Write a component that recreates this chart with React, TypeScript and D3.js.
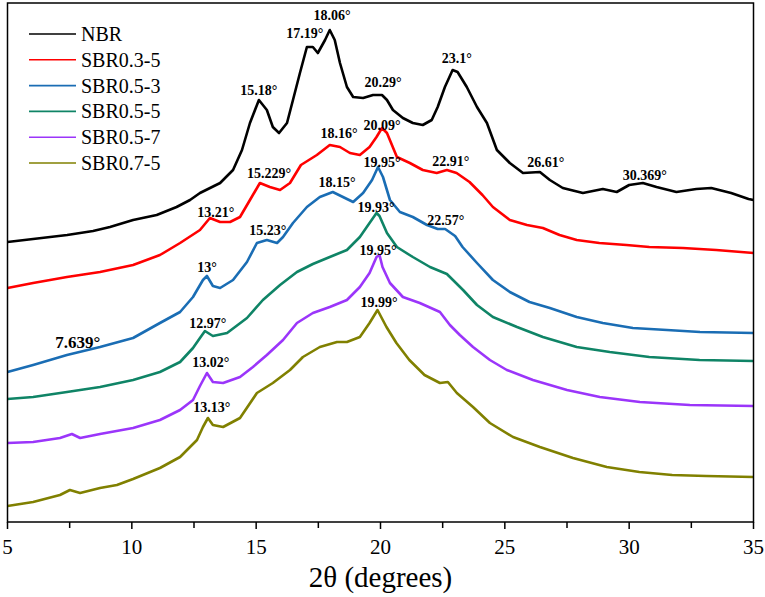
import React from "react";
import * as d3 from "d3";

// ---- Data (2θ in degrees, intensity in arbitrary units) ----
const seriesNames = ["NBR", "SBR0.3-5", "SBR0.5-3", "SBR0.5-5", "SBR0.5-7", "SBR0.7-5"];
const seriesColors = ["#000000", "#ff0000", "#1a6db4", "#0f8466", "#9b35fa", "#808000"];

const nbr: [number, number][] = [
  [5.0, 280], [6.03, 283], [7.4, 287], [8.44, 291], [9.12, 295], [10.05, 302], [11.0, 307], [11.8, 315],
  [12.34, 322], [12.74, 329], [13.55, 339], [14.07, 352], [14.43, 372], [14.75, 399], [15.11, 422],
  [15.43, 412], [15.67, 395], [15.92, 389], [16.24, 399], [16.48, 422], [16.76, 449], [17.04, 475],
  [17.28, 475], [17.48, 469], [17.77, 482], [17.96, 492], [18.16, 482], [18.37, 459], [18.65, 435],
  [18.9, 425], [19.3, 424], [19.7, 427], [20.06, 427], [20.26, 422], [20.5, 412], [20.9, 404],
  [21.3, 399], [21.7, 397], [22.06, 402], [22.3, 415], [22.59, 435], [22.9, 452], [23.1, 450],
  [23.47, 435], [23.88, 415], [24.28, 399], [24.68, 372], [25.2, 359], [25.73, 349], [26.41, 350],
  [26.81, 342], [27.33, 334], [28.14, 329], [28.94, 333], [29.5, 330], [30.0, 337], [30.55, 339],
  [31.1, 335], [31.9, 330], [32.7, 333], [33.3, 334], [34.1, 329], [34.8, 323], [35.0, 322],
];

const sbr03_5: [number, number][] = [
  [5.0, 234], [6.03, 239], [7.39, 245], [8.72, 250], [10.05, 257], [11.13, 267], [11.94, 279],
  [12.74, 292], [13.14, 304], [13.55, 300], [13.95, 300], [14.35, 305], [14.75, 322], [15.15, 339],
  [15.55, 335], [15.96, 332], [16.36, 339], [16.8, 357], [17.44, 367], [17.96, 377], [18.37, 375],
  [18.77, 369], [19.17, 367], [19.56, 375], [19.84, 385], [20.06, 394], [20.26, 389], [20.66, 365],
  [21.18, 359], [21.7, 352], [22.26, 349], [22.67, 352], [23.06, 349], [23.58, 340], [24.1, 327],
  [24.52, 315], [25.2, 302], [25.89, 297], [26.53, 294], [27.2, 287], [27.89, 282], [28.8, 279],
  [29.89, 277], [30.81, 275], [32.16, 274], [33.5, 272], [35.0, 269],
];

const sbr05_3: [number, number][] = [
  [5.0, 150], [6.03, 157], [7.39, 167], [8.72, 175], [10.05, 184], [11.13, 199], [11.94, 210],
  [12.46, 225], [12.86, 242], [13.02, 246], [13.26, 236], [13.55, 234], [14.07, 242], [14.63, 260],
  [15.03, 279], [15.43, 282], [15.84, 279], [16.08, 285], [16.48, 299], [17.04, 315], [17.56, 325],
  [18.08, 330], [18.49, 325], [18.9, 320], [19.3, 329], [19.66, 342], [19.9, 355], [20.1, 345],
  [20.38, 322], [20.78, 310], [21.3, 305], [21.87, 297], [22.3, 293], [22.6, 293], [23.0, 286],
  [23.3, 275], [23.88, 259], [24.52, 242], [25.2, 230], [25.99, 220], [26.81, 214], [27.89, 205],
  [28.94, 199], [30.15, 194], [31.52, 192], [32.85, 190], [35.0, 189],
];

const sbr05_5: [number, number][] = [
  [5.0, 123], [6.03, 125], [7.39, 130], [8.72, 135], [10.05, 142], [11.13, 150], [11.94, 160],
  [12.46, 174], [12.74, 184], [12.94, 191], [13.26, 186], [13.83, 189], [14.63, 204], [15.27, 222],
  [15.96, 237], [16.64, 250], [17.28, 258], [17.96, 265], [18.65, 272], [19.17, 285], [19.56, 299],
  [19.84, 309], [19.96, 306], [20.26, 289], [20.66, 275], [21.3, 265], [21.99, 255], [22.67, 248],
  [23.32, 232], [23.88, 217], [24.52, 205], [25.49, 195], [26.53, 185], [27.89, 175], [29.22, 170],
  [30.81, 165], [32.83, 162], [35.0, 161],
];

const sbr05_7: [number, number][] = [
  [5.0, 79], [6.03, 80], [7.11, 84], [7.59, 88], [7.92, 84], [8.72, 88], [10.05, 94], [11.13, 102],
  [11.94, 112], [12.46, 122], [12.74, 136], [13.02, 149], [13.26, 140], [13.67, 139], [14.35, 145],
  [14.87, 155], [15.43, 167], [16.08, 182], [16.64, 199], [17.28, 209], [17.96, 215], [18.65, 222],
  [19.17, 235], [19.56, 249], [19.84, 265], [19.96, 267], [20.08, 255], [20.38, 239], [20.9, 225],
  [21.58, 219], [22.39, 210], [22.79, 197], [23.19, 187], [23.72, 175], [24.4, 162], [25.08, 152],
  [26.13, 142], [27.5, 132], [28.82, 125], [30.43, 120], [32.44, 117], [35.0, 116],
];

const sbr07_5: [number, number][] = [
  [5.0, 16], [6.03, 20], [7.11, 27], [7.51, 32], [7.92, 29], [8.72, 34], [9.4, 37], [10.05, 43],
  [11.13, 54], [11.94, 65], [12.62, 82], [12.86, 95], [13.06, 104], [13.26, 97], [13.67, 95],
  [14.35, 104], [15.03, 129], [15.67, 139], [16.36, 152], [16.88, 165], [17.56, 175], [18.25, 180],
  [18.65, 180], [19.17, 185], [19.56, 199], [19.88, 212], [20.24, 195], [20.64, 179], [21.16, 162],
  [21.77, 147], [22.39, 139], [22.71, 140], [23.07, 129], [23.72, 115], [24.4, 99], [25.33, 85],
  [26.41, 75], [27.74, 64], [29.1, 55], [30.41, 50], [31.73, 47], [33.1, 46], [35.0, 45],
];

const seriesData = [nbr, sbr03_5, sbr05_3, sbr05_5, sbr05_7, sbr07_5];

// peak annotations: text, 2θ position, intensity position (baseline)
const annoText = [
  "18.06°", "17.19°", "15.18°", "20.29°", "23.1°", "26.61°", "30.369°",
  "20.09°", "18.16°", "15.229°", "22.91°", "13.21°",
  "19.95°", "18.15°", "15.23°", "22.57°", "13°", "7.639°",
  "19.93°", "12.97°",
  "19.95°", "13.02°",
  "19.99°", "13.13°",
];
const annoDeg = [
  18.05, 16.96, 15.11, 20.1, 23.07, 26.65, 30.63,
  20.06, 18.33, 15.52, 22.83, 13.38,
  20.06, 18.25, 15.47, 22.63, 13.02, 7.83,
  19.82, 13.06,
  19.9, 13.18,
  19.94, 13.22,
];
const annoInt = [
  502, 484, 427, 435, 459, 355, 342,
  392, 384, 344, 356, 305,
  355, 335, 287, 297, 250, 174,
  310, 194,
  267, 155,
  215, 110,
];

const xMajorTicks = [5, 10, 15, 20, 25, 30, 35];
const xMinorTicks = [7.5, 12.5, 17.5, 22.5, 27.5, 32.5];

const W = 765;
const H = 597;
const M = { left: 7.5, right: 11.5, top: 3, bottom: 75 };
const SERIF = '"Liberation Serif"';

export default function App() {
  const x = d3.scaleLinear().domain([5, 35]).range([M.left, W - M.right]);
  const y = d3.scaleLinear().domain([0, 519]).range([H - M.bottom, M.top]);
  const line = d3
    .line<[number, number]>()
    .x((d) => x(d[0]))
    .y((d) => y(d[1]))
    .curve(d3.curveLinear);

  const x0 = x(5);
  const x1 = x(35);
  const yb = y(0);
  const yt = y(519);
  const ts = { fontFamily: SERIF };

  return (
    <svg width={W} height={H} style={{ position: "absolute", left: 0, top: 0, background: "#fff" }}>
      <rect x={0} y={0} width={W} height={H} fill="#fff" />
      {seriesData.map((d, i) => (
        <path
          key={i}
          d={line(d) || ""}
          fill="none"
          stroke={seriesColors[i]}
          strokeWidth={2.6}
          strokeLinejoin="round"
        />
      ))}
      {/* frame */}
      <rect x={x0} y={yt} width={x1 - x0} height={yb - yt} fill="none" stroke="#000" strokeWidth={1.5} />
      {/* bottom ticks */}
      {xMajorTicks.map((t) => (
        <g key={"M" + t}>
          <line x1={x(t)} x2={x(t)} y1={yb} y2={yb + 7} stroke="#000" strokeWidth={1.5} />
          <text x={x(t)} y={yb + 32} textAnchor="middle" fontSize={21} fill="#000" style={ts}>
            {t}
          </text>
        </g>
      ))}
      {xMinorTicks.map((t) => (
        <line key={"m" + t} x1={x(t)} x2={x(t)} y1={yb} y2={yb + 6} stroke="#000" strokeWidth={1.5} />
      ))}
      <text x={(x0 + x1) / 2} y={587} textAnchor="middle" fontSize={29} fill="#000" style={ts}>
        2θ (degrees)
      </text>
      {/* annotations */}
      {annoText.map((t, i) => (
        <text
          key={"a" + i}
          x={x(annoDeg[i])}
          y={y(annoInt[i])}
          textAnchor="middle"
          fontSize={t === "7.639°" ? 17 : 14}
          fontWeight="bold"
          fill="#000"
          style={ts}
        >
          {t}
        </text>
      ))}
      {/* legend */}
      {seriesNames.map((n, i) => {
        const cy = 34 + i * 25.8;
        return (
          <g key={"l" + i}>
            <line x1={29} x2={76} y1={cy} y2={cy} stroke={seriesColors[i]} strokeWidth={1.6} />
            <text x={81} y={cy + 7} fontSize={20} fill="#000" style={ts}>
              {n}
            </text>
          </g>
        );
      })}
    </svg>
  );
}
